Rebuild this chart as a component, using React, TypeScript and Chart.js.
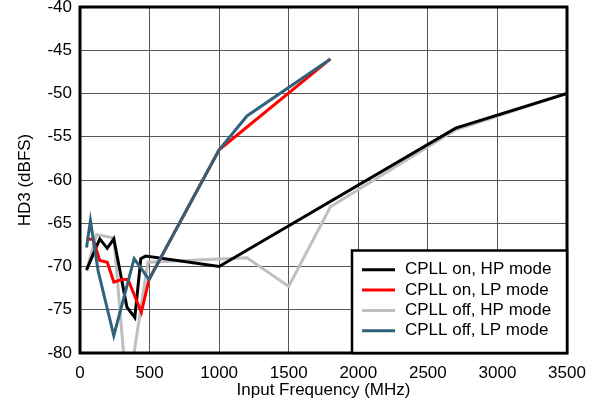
import React, { useEffect, useRef } from 'react';
import { Chart, registerables } from 'chart.js';

Chart.register(...registerables);

const seriesLabels = ['CPLL on, HP mode', 'CPLL on, LP mode', 'CPLL off, HP mode', 'CPLL off, LP mode'];
const seriesColors = ['#000000', '#ff0000', '#bfbfbf', '#31627c'];
const seriesOrder = [2, 1, 3, 0];

const onHpFreq = [47, 142, 196, 243, 337, 394, 437, 472, 1000, 2700, 3500];
const onHpHd3 = [-70.4, -66.8, -67.9, -66.8, -74.7, -75.9, -69.1, -68.8, -70.0, -54.0, -50.0];

const onLpFreq = [47, 94, 142, 196, 243, 300, 345, 441, 496, 1000, 1800];
const onLpHd3 = [-66.85, -66.85, -69.3, -69.5, -71.8, -71.5, -71.5, -75.3, -71.5, -56.5, -46.0];

const offHpFreq = [47, 118, 243, 340, 488, 1200, 1500, 1800, 2700, 3500];
const offHpHd3 = [-70.5, -66.3, -66.7, -85.1, -69.5, -69.0, -72.3, -63.1, -54.2, -50.0];

const offLpFreq = [47, 75, 130, 243, 389, 496, 1000, 1200, 1800];
const offLpHd3 = [-67.8, -64.7, -70.5, -78.0, -69.1, -71.5, -56.5, -52.6, -46.0];

const xTicks = [0, 500, 1000, 1500, 2000, 2500, 3000, 3500];
const yTicks = [-80, -75, -70, -65, -60, -55, -50, -45, -40];

const xTitle = 'Input Frequency (MHz)';
const yTitle = 'HD3 (dBFS)';

const FONT = "'Liberation Sans', Arial, sans-serif";

const toPoints = (xs: number[], ys: number[]) => xs.map((x, i) => ({ x, y: ys[i] }));

const framePlugin = {
  id: 'frameAndLegend',
  afterDatasetsDraw(chart: any) {
    const { ctx, chartArea } = chart;
    const { left, top, right, bottom } = chartArea;
    ctx.save();
    ctx.strokeStyle = '#000';
    ctx.lineWidth = 3;
    ctx.strokeRect(left, top, right - left, bottom - top);

    // legend box inside the plot (bottom-right)
    const bx1 = 352;
    const by1 = 250.5;
    const bx2 = right;
    const by2 = bottom;
    ctx.fillStyle = '#fff';
    ctx.fillRect(bx1, by1, bx2 - bx1, by2 - by1);
    ctx.lineWidth = 2.5;
    ctx.strokeStyle = '#000';
    ctx.strokeRect(bx1, by1, bx2 - bx1, by2 - by1);

    ctx.font = `17px ${FONT}`;
    ctx.textBaseline = 'middle';
    ctx.textAlign = 'left';
    chart.data.datasets.forEach((ds: any, i: number) => {
      const y = 269.8 + i * 20.3;
      ctx.strokeStyle = ds.borderColor;
      ctx.lineWidth = 3;
      ctx.beginPath();
      ctx.moveTo(362, y);
      ctx.lineTo(395, y);
      ctx.stroke();
      ctx.fillStyle = '#000';
      ctx.fillText(ds.label, 405, y);
    });
    ctx.restore();
  },
};

export default function App() {
  const canvasRef = useRef<HTMLCanvasElement | null>(null);

  useEffect(() => {
    if (!canvasRef.current) return;
    const freqs = [onHpFreq, onLpFreq, offHpFreq, offLpFreq];
    const vals = [onHpHd3, onLpHd3, offHpHd3, offLpHd3];
    const chart = new Chart(canvasRef.current, {
      type: 'line',
      data: {
        datasets: seriesLabels.map((label, i) => ({
          label,
          data: toPoints(freqs[i], vals[i]),
          borderColor: seriesColors[i],
          backgroundColor: seriesColors[i],
          borderWidth: 3,
          pointRadius: 0,
          tension: 0,
          fill: false,
          order: seriesOrder[i],
        })),
      },
      options: {
        animation: false,
        responsive: false,
        maintainAspectRatio: false,
        layout: { padding: { top: 7, right: 28, left: 0, bottom: 0 } },
        plugins: {
          legend: { display: false },
          tooltip: { enabled: false },
        },
        scales: {
          x: {
            type: 'linear',
            min: 0,
            max: 3500,
            afterBuildTicks: (s: any) => {
              s.ticks = xTicks.map((v) => ({ value: v }));
            },
            afterFit: (s: any) => {
              s.height = 53;
              s.paddingLeft = 0;
              s.paddingRight = 0;
            },
            ticks: {
              callback: (v: any) => String(v),
              font: { family: FONT, size: 17 },
              color: '#000',
              padding: 10,
              maxRotation: 0,
              autoSkip: false,
            },
            grid: { color: '#555', lineWidth: 1, drawTicks: false },
            border: { display: false },
            title: {
              display: true,
              text: xTitle,
              font: { family: FONT, size: 17 },
              color: '#000',
              padding: { top: 0, bottom: 5 },
            },
          },
          y: {
            type: 'linear',
            min: -80,
            max: -40,
            afterBuildTicks: (s: any) => {
              s.ticks = yTicks.map((v) => ({ value: v }));
            },
            afterFit: (s: any) => {
              s.width = 80;
              s.paddingTop = 0;
              s.paddingBottom = 0;
            },
            ticks: {
              callback: (v: any) => String(v),
              font: { family: FONT, size: 17 },
              color: '#000',
              padding: 8,
              autoSkip: false,
            },
            grid: { color: '#555', lineWidth: 1, drawTicks: false },
            border: { display: false },
            title: {
              display: true,
              text: yTitle,
              font: { family: FONT, size: 17 },
              color: '#000',
              padding: { top: 15, bottom: 0 },
            },
          },
        },
      },
      plugins: [framePlugin],
    });
    return () => chart.destroy();
  }, []);

  return (
    <div style={{ position: 'absolute', left: 0, top: 0, width: 595, height: 406, background: '#fff' }}>
      <canvas ref={canvasRef} width={595} height={406} style={{ display: 'block' }} />
    </div>
  );
}
